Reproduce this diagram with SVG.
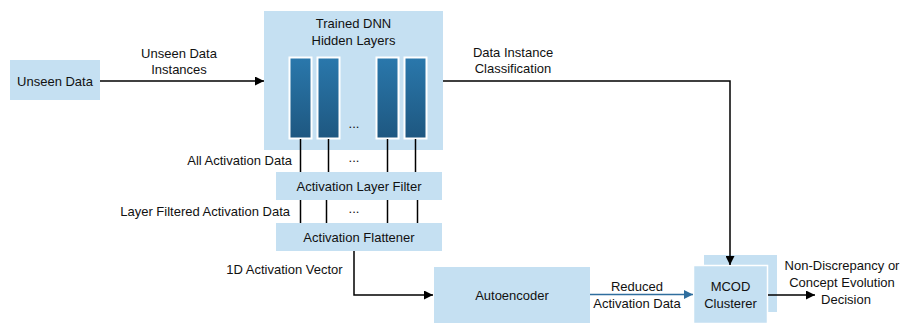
<svg xmlns="http://www.w3.org/2000/svg" width="900" height="323" viewBox="0 0 900 323">
<style>
  .box { fill: #C5E0F2; }
  .lbl { font-family: "Liberation Sans", Arial, sans-serif; font-size: 13px; fill: #111; }
  .c { text-anchor: middle; }
  .r { text-anchor: end; }
  .ln { stroke: #000; stroke-width: 1.5; fill: none; }
  .bar { fill: url(#barGrad); stroke: #FFFFFF; stroke-width: 2; }
</style>
<defs>
  <linearGradient id="barGrad" x1="0" y1="0" x2="0" y2="1">
    <stop offset="0" stop-color="#2A78AC"/>
    <stop offset="1" stop-color="#1E5780"/>
  </linearGradient>
  <marker id="ah" viewBox="0 0 10 10" refX="10" refY="5" markerWidth="9" markerHeight="9" markerUnits="userSpaceOnUse" orient="auto">
    <path d="M0,0 L10,5 L0,10 z" fill="#000"/>
  </marker>
  <marker id="ahb" viewBox="0 0 10 10" refX="10" refY="5" markerWidth="9" markerHeight="9" markerUnits="userSpaceOnUse" orient="auto">
    <path d="M0,0 L10,5 L0,10 z" fill="#2F6E9E"/>
  </marker>
</defs>

<rect width="900" height="323" fill="#FFFFFF"/>

<g id="unseen-data">
  <rect class="box" x="10" y="60" width="90" height="40"/>
  <text class="lbl c" x="55" y="85.5">Unseen Data</text>
</g>

<g id="dnn">
  <rect class="box" x="264" y="11" width="179" height="139"/>
  <text class="lbl c" x="353.5" y="28">Trained DNN</text>
  <text class="lbl c" x="353.5" y="45">Hidden Layers</text>
  <rect class="bar" x="289.5" y="57.5" width="22" height="81"/>
  <rect class="bar" x="317.5" y="57.5" width="22" height="81"/>
  <rect class="bar" x="376.5" y="57.5" width="22" height="81"/>
  <rect class="bar" x="404.5" y="57.5" width="22" height="81"/>
  <text class="lbl c" x="354" y="128">...</text>
</g>

<g id="layer-filter">
  <rect class="box" x="276" y="172" width="166" height="28"/>
  <text class="lbl c" x="359" y="190.5">Activation Layer Filter</text>
</g>

<g id="flattener">
  <rect class="box" x="276" y="223" width="166" height="28"/>
  <text class="lbl c" x="359" y="241.5">Activation Flattener</text>
</g>

<g id="autoencoder">
  <rect class="box" x="434" y="267" width="156" height="56"/>
  <text class="lbl c" x="512" y="299.5">Autoencoder</text>
</g>

<g id="mcod">
  <rect class="box" x="704" y="255" width="73" height="57"/>
  <rect class="box" x="693.5" y="265.5" width="74" height="58" stroke="#FFFFFF" stroke-width="1.5"/>
  <text class="lbl c" x="730.5" y="291">MCOD</text>
  <text class="lbl c" x="730.5" y="307.5">Clusterer</text>
</g>

<g id="connectors">
  <line class="ln" x1="100" y1="81" x2="264" y2="81" marker-end="url(#ah)"/>
  <text class="lbl c" x="179" y="58">Unseen Data</text>
  <text class="lbl c" x="179" y="74">Instances</text>

  <polyline class="ln" points="443,81 730,81 730,265" marker-end="url(#ah)"/>
  <text class="lbl c" x="513" y="57">Data Instance</text>
  <text class="lbl c" x="513" y="72.5">Classification</text>

  <line class="ln" x1="300.5" y1="139" x2="300.5" y2="172"/>
  <line class="ln" x1="328.5" y1="139" x2="328.5" y2="172"/>
  <line class="ln" x1="387.5" y1="139" x2="387.5" y2="172"/>
  <line class="ln" x1="415.5" y1="139" x2="415.5" y2="172"/>
  <text class="lbl r" x="292" y="165">All Activation Data</text>
  <text class="lbl c" x="354" y="161.5">...</text>

  <line class="ln" x1="300.5" y1="200" x2="300.5" y2="223"/>
  <line class="ln" x1="326.5" y1="200" x2="326.5" y2="223"/>
  <line class="ln" x1="387.5" y1="200" x2="387.5" y2="223"/>
  <line class="ln" x1="417.5" y1="200" x2="417.5" y2="223"/>
  <text class="lbl r" x="290" y="216">Layer Filtered Activation Data</text>
  <text class="lbl c" x="354" y="213">...</text>

  <polyline class="ln" points="354,251 354,295 433,295" marker-end="url(#ah)"/>
  <text class="lbl c" x="284.5" y="273.5">1D Activation Vector</text>

  <line x1="590" y1="294.5" x2="693" y2="294.5" stroke="#2F6E9E" stroke-width="1.5" marker-end="url(#ahb)"/>
  <text class="lbl c" x="637" y="291">Reduced</text>
  <text class="lbl c" x="637" y="307.5">Activation Data</text>

  <line class="ln" x1="768" y1="295" x2="815" y2="295" marker-end="url(#ah)"/>
  <text class="lbl c" x="842" y="269.5">Non-Discrepancy or</text>
  <text class="lbl c" x="842" y="286.5">Concept Evolution</text>
  <text class="lbl c" x="846" y="303.5">Decision</text>
</g>
</svg>
